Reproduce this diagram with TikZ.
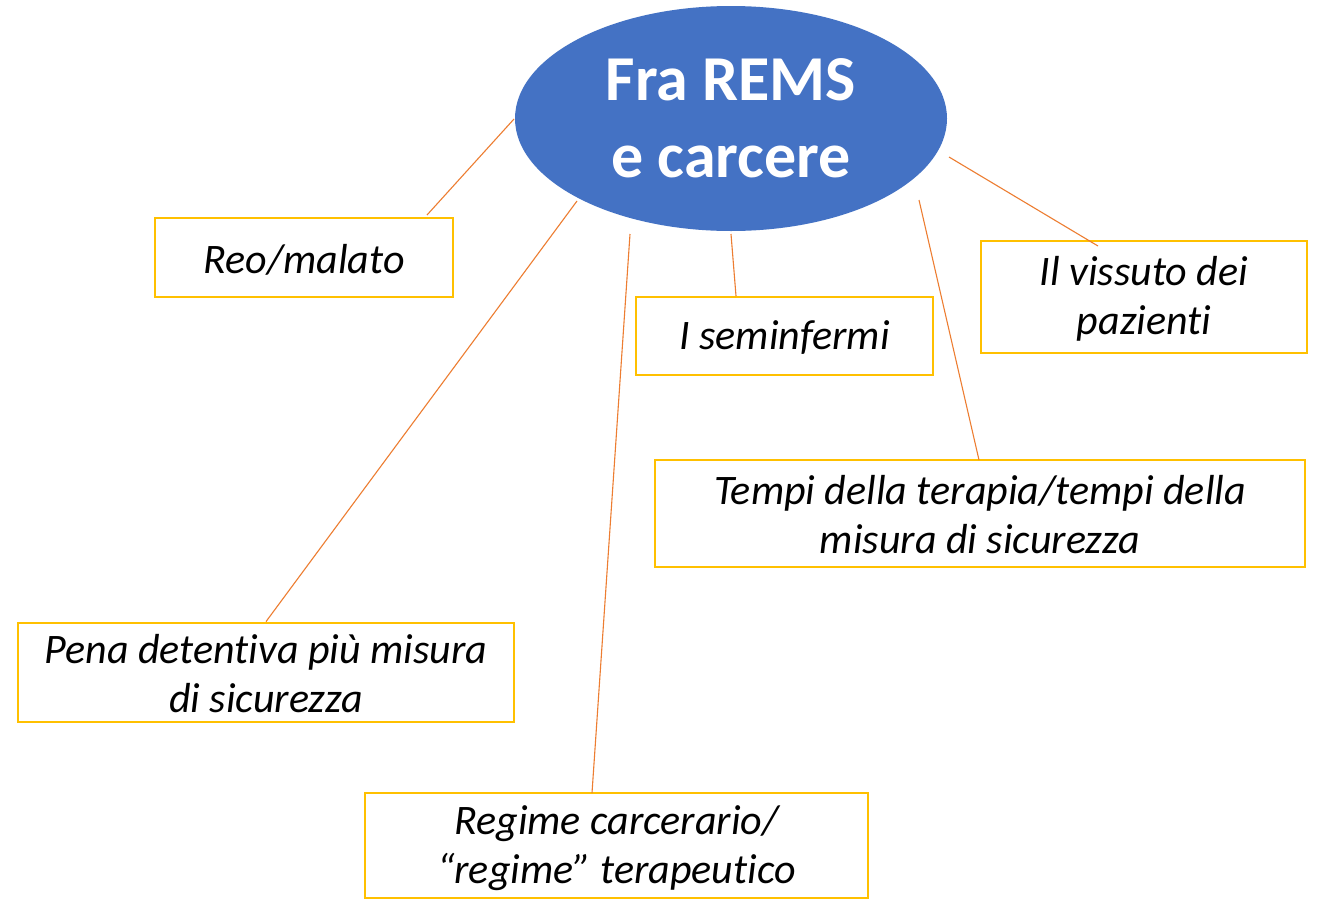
\documentclass[tikz,border=0pt]{standalone}
\usepackage{fontspec}
\setmainfont[Ligatures=NoCommon]{Carlito}
\usetikzlibrary{shapes.geometric}
\definecolor{eblue}{HTML}{4472C4}
\definecolor{bgold}{HTML}{FFC000}
\definecolor{lorange}{HTML}{ED7D31}
\begin{document}
\begin{tikzpicture}[x=1pt,y=-1pt,
  box/.style={draw=bgold,line width=2.8pt,fill=white,inner sep=0pt},
  btext/.style={inner sep=0pt,align=center,font=\fontsize{42}{49}\selectfont\itshape},
  link/.style={draw=lorange,line width=1.1pt}]
\useasboundingbox[fill=white] (0,0) rectangle (1317,900);
\node[ellipse, fill=eblue, minimum width=432pt, minimum height=225pt, inner sep=0pt,
  text=white, align=center, font=\fontsize{64}{77}\selectfont\bfseries] (main) at (731,118.5) {Fra REMS\\e carcere};
\node[box, minimum width=298pt, minimum height=79pt] (reo) at (304,257.5) {};
\node[box, minimum width=297pt, minimum height=78pt] (sem) at (784.5,336) {};
\node[box, minimum width=326pt, minimum height=112pt] (viss) at (1144,297) {};
\node[box, minimum width=650pt, minimum height=107pt] (tempi) at (980,513.5) {};
\node[box, minimum width=496pt, minimum height=99pt] (pena) at (266,672.5) {};
\node[box, minimum width=503pt, minimum height=105pt] (regime) at (616.5,845.5) {};
\node[btext] (reoT) at ([yshift=-2pt]reo.center) {Reo/malato};
\node[btext] (semT) at ([yshift=-2pt]sem.center) {I seminfermi};
\node[btext] (vissT) at ([yshift=-2pt]viss.center) {Il vissuto dei\\pazienti};
\node[btext] (tempiT) at ([yshift=-1pt]tempi.center) {Tempi della terapia/tempi della\\misura di sicurezza};
\node[btext] (penaT) at ([yshift=-1pt]pena.center) {Pena detentiva più misura\\di sicurezza};
\node[btext] (regimeT) at ([yshift=-3pt]regime.center) {Regime carcerario/\\“regime” terapeutico};
\coordinate (r1) at (514,119);
\coordinate (r2) at (427,215);
\coordinate (p1) at (577,201);
\coordinate (g1) at (630,234);
\coordinate (g2) at (592,793);
\coordinate (s1) at (731,234);
\coordinate (s2) at (736,296);
\coordinate (t1) at (919,200);
\coordinate (t2) at (979,460);
\coordinate (v1) at (949,157);
\coordinate (v2) at (1098,246);
\draw[link] (r1) -- (r2);
\draw[link] (p1) -- (pena.north);
\draw[link] (g1) -- (g2);
\draw[link] (s1) -- (s2);
\draw[link] (t1) -- (t2);
\draw[link] (v1) -- (v2);
\end{tikzpicture}
\end{document}
